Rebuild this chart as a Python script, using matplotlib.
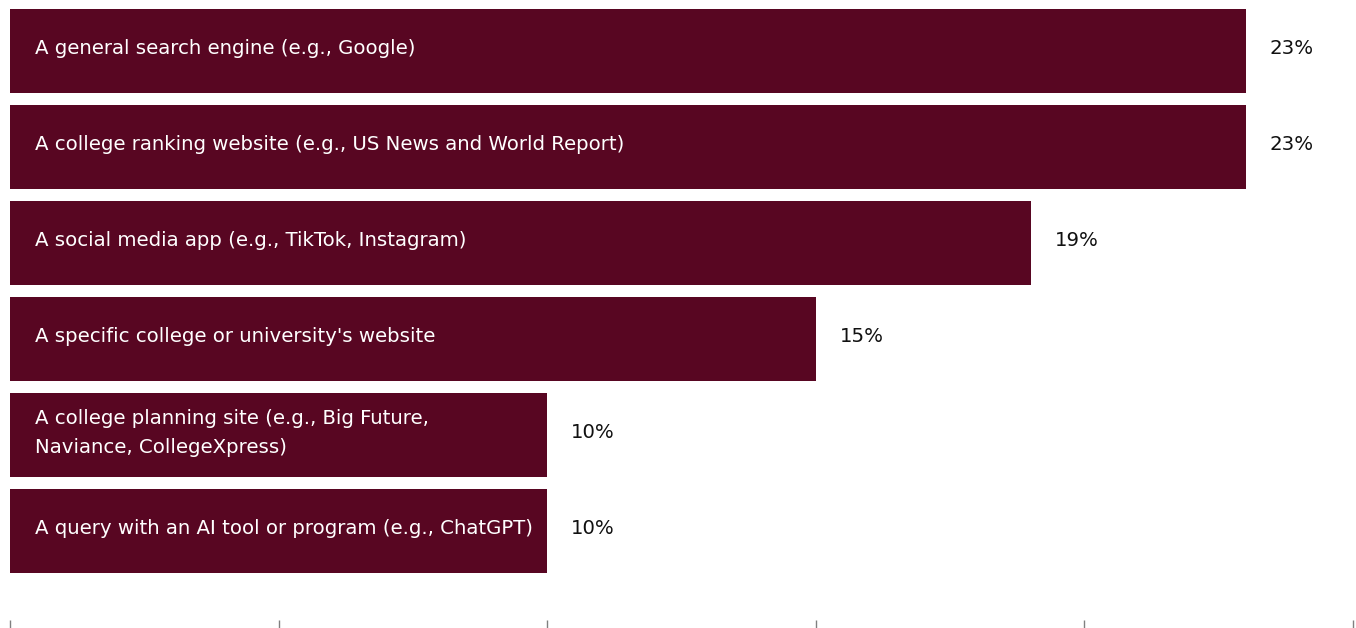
import matplotlib
matplotlib.use("Agg")
import matplotlib.pyplot as plt

categories = [
    "A general search engine (e.g., Google)",
    "A college ranking website (e.g., US News and World Report)",
    "A social media app (e.g., TikTok, Instagram)",
    "A specific college or university's website",
    "A college planning site (e.g., Big Future,\nNaviance, CollegeXpress)",
    "A query with an AI tool or program (e.g., ChatGPT)",
]
values = [23, 23, 19, 15, 10, 10]
value_labels = ["23%", "23%", "19%", "15%", "10%", "10%"]

BAR_COLOR = "#580622"
plt.rcParams["font.family"] = ["DejaVu Sans"]

W, H, DPI = 1356, 628, 100
fig = plt.figure(figsize=(W / DPI, H / DPI), dpi=DPI)
ax = fig.add_axes([10 / W, 8 / H, 1343 / W, 620 / H])

pos = list(range(len(values)))
ax.barh(pos, values, height=0.875, color=BAR_COLOR)
ax.set_xlim(0, 25)
ax.set_ylim(5.9271, -0.53125)

for p, v, cat, lab in zip(pos, values, categories, value_labels):
    ax.annotate(cat, xy=(0, p), xytext=(25, 2), textcoords="offset pixels",
                ha="left", va="center", color="white", fontsize=14.2,
                linespacing=1.68)
    ax.annotate(lab, xy=(v, p), xytext=(24, 2), textcoords="offset pixels",
                ha="left", va="center", color="#111111", fontsize=14.2)

for s in ax.spines.values():
    s.set_visible(False)
ax.set_yticks([])
ax.set_xticks([0, 5, 10, 15, 20, 25])
ax.set_xticklabels([])
ax.tick_params(axis="x", direction="out", length=5.8, width=1, color="#808080")

fig.savefig("out.png", dpi=DPI)
